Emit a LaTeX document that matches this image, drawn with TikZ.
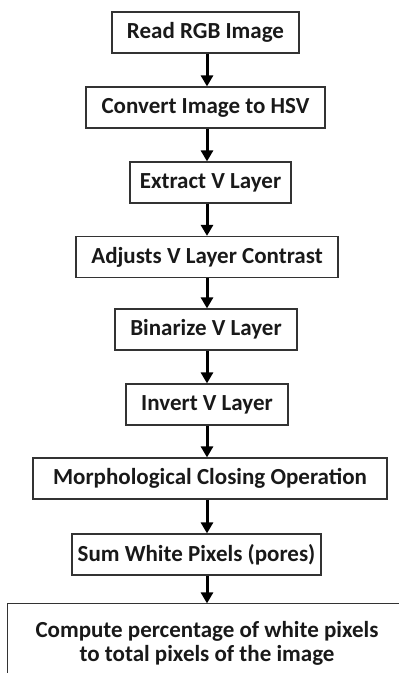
\documentclass[tikz,border=0pt]{standalone}
\usepackage{fontspec}
\setsansfont{Carlito}
\usetikzlibrary{arrows.meta}

\begin{document}
\begin{tikzpicture}[
    x=1pt, y=1pt,
    nodes={draw=black!80, line width=1.2pt, minimum height=41pt,
        font=\sffamily\bfseries\fontsize{23}{24}\selectfont, text=black!90},
    stepbox/.style={%
        align=center, inner sep=2pt},
    lastbox/.style={%
        draw=none, align=center, minimum width=398pt, minimum height=78pt},
    flow/.style={%
        line width=3pt, -{Triangle[width=12pt,length=11pt]}},
]
    \useasboundingbox (0,0) rectangle (399,-673);
    \coordinate (spine) at (207,0);
    % Steps
    \node[stepbox, minimum width=187pt] (read)   at (205.5,-32.5)  {Read RGB Image};
    \node[stepbox, minimum width=239pt] (hsv)    at (205.5,-107.5) {Convert Image to HSV};
    \node[stepbox, minimum width=161pt] (extract) at (210.5,-182.5) {Extract V Layer};
    \node[stepbox, minimum width=262pt] (adjust) at (207,-257)     {Adjusts V Layer Contrast};
    \node[stepbox, minimum width=182pt] (binar)  at (206,-329.5)   {Binarize V Layer};
    \node[stepbox, minimum width=162pt] (invert) at (207,-404.5)   {Invert V Layer};
    \node[stepbox, minimum width=354pt] (close)  at (210,-478.5)   {Morphological Closing Operation};
    \node[stepbox, minimum width=249pt] (sum)    at (196.5,-554.5) {Sum White Pixels (pores)};
    \node[lastbox] (percent) at (207,-643) {Compute percentage of white pixels\\to total pixels of the image};
    % last box is cut off by the right and bottom edges
    \draw[black!80, line width=1.2pt] (percent.north east) -- (percent.north west) -- (percent.south west);
    % Arrows
    \draw[flow] (read.south -| spine)    -- (hsv.north -| spine);
    \draw[flow] (hsv.south -| spine)     -- (extract.north -| spine);
    \draw[flow] (extract.south -| spine) -- (adjust.north -| spine);
    \draw[flow] (adjust.south -| spine)  -- (binar.north -| spine);
    \draw[flow] (binar.south -| spine)   -- (invert.north -| spine);
    \draw[flow] (invert.south -| spine)  -- (close.north -| spine);
    \draw[flow] (close.south -| spine)   -- (sum.north -| spine);
    \draw[flow] (sum.south -| spine)     -- (percent.north -| spine);
\end{tikzpicture}
\end{document}
